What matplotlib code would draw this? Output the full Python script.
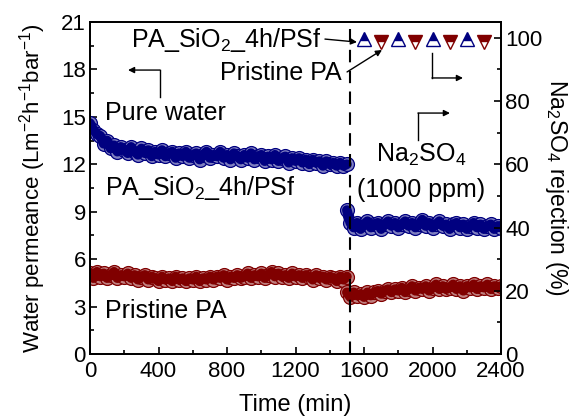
import numpy as np
import matplotlib
matplotlib.use("Agg")
import matplotlib.pyplot as plt

plt.rcParams['font.family'] = ['Liberation Sans', 'DejaVu Sans']
plt.rcParams['mathtext.default'] = 'regular'

# ---- data ----
t_before = np.arange(0, 1501, 20)
t_after = np.arange(1500, 2401, 20)

blue_before = [14.6, 14.2, 13.9, 13.8, 13.3, 13.5, 13.0, 13.2, 12.8, 13.1,
               12.9, 12.7, 13.1, 12.8, 12.6, 13.0, 12.7, 12.9, 12.5, 12.8,
               12.6, 12.9, 12.5, 12.7, 12.8, 12.4, 12.7, 12.5, 12.8, 12.4,
               12.6, 12.7, 12.3, 12.6, 12.8, 12.4, 12.6, 12.5, 12.8, 12.4,
               12.6, 12.3, 12.7, 12.5, 12.3, 12.6, 12.4, 12.7, 12.3, 12.5,
               12.6, 12.2, 12.5, 12.3, 12.6, 12.2, 12.4, 12.5, 12.1, 12.4,
               12.2, 12.4, 12.1, 12.3, 12.0, 12.3, 12.1, 12.2, 11.9, 12.2,
               12.0, 12.1, 11.9, 12.1, 11.9, 12.0]
blue_after = [9.1, 8.3, 8.0, 8.3, 7.9, 8.2, 8.4, 8.0, 8.2, 8.3,
              7.9, 8.2, 8.4, 8.1, 8.3, 8.0, 8.2, 8.4, 8.1, 8.3,
              8.0, 8.2, 8.5, 8.1, 8.3, 8.0, 8.2, 8.4, 8.1, 8.2,
              7.9, 8.2, 8.3, 8.0, 8.2, 7.9, 8.1, 8.3, 8.0, 8.2,
              7.9, 8.1, 8.2, 7.9, 8.1, 8.0]
red_before = [5.1, 4.8, 5.2, 4.9, 5.1, 4.8, 5.0, 5.2, 4.8, 5.0,
              4.9, 5.1, 4.8, 5.0, 4.7, 4.9, 5.0, 4.7, 4.9, 4.8,
              4.6, 4.9, 4.7, 4.8, 4.6, 4.9, 4.7, 4.8, 4.6, 4.8,
              4.7, 4.9, 4.6, 4.8, 4.7, 4.9, 4.7, 4.9, 4.8, 5.0,
              4.7, 4.9, 4.8, 5.0, 4.8, 4.9, 5.1, 4.8, 5.0, 4.9,
              5.1, 4.8, 5.0, 5.2, 4.9, 5.1, 4.9, 5.0, 4.8, 5.1,
              4.9, 5.0, 4.8, 5.0, 4.9, 4.7, 5.0, 4.8, 4.9, 4.7,
              4.9, 4.8, 4.6, 4.9, 4.7, 4.9]
red_after = [3.9, 3.6, 3.9, 3.7, 3.8, 3.6, 3.9, 3.7, 3.9, 4.0,
             3.8, 4.0, 4.1, 3.9, 4.1, 4.0, 4.2, 3.9, 4.1, 4.3,
             4.0, 4.2, 4.1, 4.3, 4.0, 4.2, 4.4, 4.1, 4.3, 4.1,
             4.2, 4.4, 4.1, 4.3, 4.0, 4.3, 4.2, 4.4, 4.1, 4.3,
             4.2, 4.4, 4.1, 4.3, 4.2, 4.3]

rej_t_mod = [1600, 1800, 2000, 2200]
rej_mod = [99.5, 99.5, 99.5, 99.5]
rej_t_pris = [1700, 1900, 2100, 2300]
rej_pris = [98.7, 98.7, 98.7, 98.7]

blue = '#000080'
red = '#800000'
FS = 16
AFS = 18

fig = plt.figure(figsize=(5.76, 4.16), dpi=100)
ax = fig.add_axes([90/576, 62/416, 411/576, 332/416])
ax2 = ax.twinx()

mk = dict(marker='o', ms=10, mew=0.9)
for tt, yy in [(t_before, blue_before), (t_after, blue_after)]:
    ax.plot(tt, yy, color=blue, lw=8, solid_joinstyle='round',
            solid_capstyle='round', mfc='#8080c0', mec=blue, **mk)
for tt, yy in [(t_before, red_before), (t_after, red_after)]:
    ax.plot(tt, yy, color=red, lw=8, solid_joinstyle='round',
            solid_capstyle='round', mfc='#c08080', mec=red, **mk)
for tt, yy, c in [(t_before, blue_before, blue), (t_after, blue_after, blue),
                  (t_before, red_before, red), (t_after, red_after, red)]:
    ax.plot(tt, yy, color=c, lw=7, solid_joinstyle='round', solid_capstyle='round')

ax.axvline(1520, color='k', lw=1.5, dashes=(6, 4))

ax2.plot(rej_t_mod, rej_mod, ls='none', marker='^', ms=10, color=blue,
         mec=blue, mfc=blue, fillstyle='top', markerfacecoloralt='white', mew=1)
ax2.plot(rej_t_pris, rej_pris, ls='none', marker='v', ms=10, color=red,
         mec=red, mfc=red, fillstyle='top', markerfacecoloralt='white', mew=1)

ax.set_xlim(0, 2400)
ax.set_ylim(0, 21)
ax2.set_ylim(0, 105)
ax.set_xticks(np.arange(0, 2401, 400))
ax.set_xticks(np.arange(200, 2400, 400), minor=True)
ax.set_yticks(np.arange(0, 22, 3))
ax.set_yticks(np.arange(1.5, 21, 3), minor=True)
ax2.set_yticks(np.arange(0, 101, 20))
ax2.set_yticks(np.arange(10, 105, 20), minor=True)

for a in (ax, ax2):
    a.tick_params(which='both', direction='in', labelsize=FS, width=1.2, pad=3)
    a.tick_params(which='major', length=5)
    a.tick_params(which='minor', length=3)
    for s in a.spines.values():
        s.set_linewidth(1.3)
ax.tick_params(axis='x', which='both', pad=5)

ax.set_xlabel('Time (min)', fontsize=17, labelpad=9)
ax.set_ylabel('Water permeance (Lm$^{-2}$h$^{-1}$bar$^{-1}$)', fontsize=FS, labelpad=9)
ax2.set_ylabel('Na$_2$SO$_4$ rejection (%)', fontsize=16.5, rotation=270, labelpad=20)

# annotations
ax.text(1355, 19.86, 'PA_SiO$_2$_4h/PSf', fontsize=AFS, ha='right', va='center')
ax.text(1471, 17.77, 'Pristine PA', fontsize=AFS, ha='right', va='center')
arw = dict(arrowstyle='-|>', color='k', lw=1, mutation_scale=9, shrinkA=0, shrinkB=0)
ax.annotate('', xy=(1559, 19.73), xytext=(1372, 19.92), arrowprops=arw)
ax.annotate('', xy=(1705, 19.23), xytext=(1501, 17.84), arrowprops=arw)

ax.plot([409, 409], [16.26, 17.96], color='k', lw=1)
ax.annotate('', xy=(222, 17.96), xytext=(409, 17.96), arrowprops=arw)
ax.plot([1997, 1997], [19.04, 17.46], color='k', lw=1)
ax.annotate('', xy=(2178, 17.46), xytext=(1997, 17.46), arrowprops=arw)
ax.plot([1915, 1915], [13.54, 15.24], color='k', lw=1)
ax.annotate('', xy=(2102, 15.24), xytext=(1915, 15.24), arrowprops=arw)

ax.text(88, 15.24, 'Pure water', fontsize=AFS, ha='left', va='center')
ax.text(88, 10.5, 'PA_SiO$_2$_4h/PSf', fontsize=AFS, ha='left', va='center')
ax.text(88, 2.72, 'Pristine PA', fontsize=AFS, ha='left', va='center')
ax.text(1934, 12.6, 'Na$_2$SO$_4$', fontsize=AFS, ha='center', va='center')
ax.text(1934, 10.4, '(1000 ppm)', fontsize=AFS, ha='center', va='center')

fig.savefig('out.png', dpi=100)
